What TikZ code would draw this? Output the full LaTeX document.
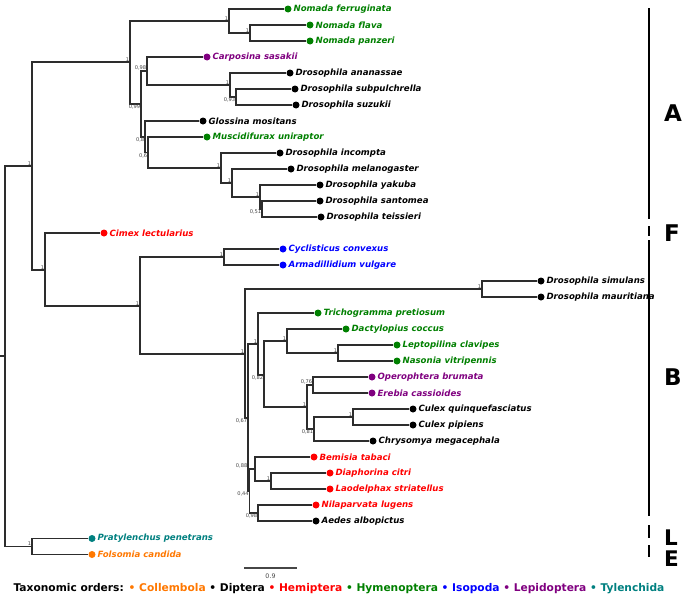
\documentclass[tikz,border=0pt]{standalone}
\usepackage{fontspec}
\setmainfont{DejaVu Sans}
\usetikzlibrary{backgrounds}
\definecolor{cgreen}{RGB}{0,128,0}
\definecolor{cpurple}{RGB}{128,0,128}
\definecolor{cred}{RGB}{255,0,0}
\definecolor{cblue}{RGB}{0,0,255}
\definecolor{cteal}{RGB}{0,128,128}
\definecolor{corange}{RGB}{255,120,0}
\definecolor{bsgray}{RGB}{70,70,70}
\definecolor{branchcol}{RGB}{45,45,45}
\tikzset{
  branch/.style={draw=branchcol, line width=1.15pt},
  leafdot/.style={circle, inner sep=0pt, minimum size=7pt, draw=none},
  leaftext/.style={inner sep=0pt, font=\fontsize{8.6}{9}\selectfont\bfseries\itshape},
  bslab/.style={inner sep=0pt, text=bsgray, font=\fontsize{5.1}{5.5}\selectfont},
  cladebar/.style={draw=black, line width=2.6pt},
  cladeletter/.style={inner sep=0pt, anchor=west, font=\fontsize{23}{25}\selectfont\bfseries},
  cladeletterS/.style={cladeletter, font=\fontsize{21.5}{23}\selectfont\bfseries},
  legendtext/.style={inner sep=0pt, font=\fontsize{10.65}{12}\selectfont\bfseries},
}
\newcommand{\leaf}[5]{%
  \node[leafdot, fill=#4] (#1) at (#2,#3) {};
  \node[leaftext, text=#4, anchor=west] (#1t) at ([xshift=5.4pt]#1.center) {#5};}
\newcommand{\bsa}[2]{\node[bslab, anchor=south east] (b#1) at ([xshift=-0.6pt,yshift=0.6pt]#1) {#2};}
\newcommand{\bsb}[2]{\node[bslab, anchor=north east] (b#1) at ([xshift=-0.6pt,yshift=-0.9pt]#1) {#2};}
\begin{document}
\begin{tikzpicture}[x=1pt,y=-1pt]
\useasboundingbox (0,0) rectangle (685,597);
% internal nodes
\coordinate (rootstub) at (0,356);
\coordinate (root) at (5,356);
\coordinate (n1) at (32,166);
\coordinate (nTop) at (130,62);
\coordinate (nNom) at (229,21);
\coordinate (nNom2) at (250,33);
\coordinate (n099) at (141,104);
\coordinate (n098) at (147,71);
\coordinate (nAna) at (230,85);
\coordinate (n093) at (236,97);
\coordinate (n08) at (145,137);
\coordinate (n06) at (148,152.5);
\coordinate (nInc) at (221,168);
\coordinate (nMel) at (232,183);
\coordinate (nYak) at (260,197);
\coordinate (n051) at (262,209);
\coordinate (nCim) at (45,270);
\coordinate (nIso) at (140,306);
\coordinate (nCyc) at (224,257);
\coordinate (nB) at (245,354);
\coordinate (nSim) at (482,289);
\coordinate (n067) at (248,418);
\coordinate (nTri) at (258,344);
\coordinate (n082) at (264,375);
\coordinate (nDac) at (287,341);
\coordinate (nLep) at (338,353);
\coordinate (nLep1) at (307,407);
\coordinate (n076) at (313,385);
\coordinate (n081) at (314,429);
\coordinate (nCul) at (353,417);
\coordinate (n044) at (249.5,491);
\coordinate (n088) at (255,469);
\coordinate (nDia) at (271,481);
\coordinate (n098b) at (258,513);
\coordinate (nPF) at (32,546.5);
% leaves
\leaf{Nferr}{288}{9}{cgreen}{Nomada ferruginata}
\leaf{Nflav}{310}{25}{cgreen}{Nomada flava}
\leaf{Npanz}{310}{41}{cgreen}{Nomada panzeri}
\leaf{Csas}{207}{57}{cpurple}{Carposina sasakii}
\leaf{Dana}{290}{73}{black}{Drosophila ananassae}
\leaf{Dsubp}{295}{89}{black}{Drosophila subpulchrella}
\leaf{Dsuz}{296}{105}{black}{Drosophila suzukii}
\leaf{Gmos}{203}{121}{black}{Glossina mositans}
\leaf{Muni}{207}{137}{cgreen}{Muscidifurax uniraptor}
\leaf{Dinc}{280}{153}{black}{Drosophila incompta}
\leaf{Dmel}{291}{169}{black}{Drosophila melanogaster}
\leaf{Dyak}{320}{185}{black}{Drosophila yakuba}
\leaf{Dsan}{320}{201}{black}{Drosophila santomea}
\leaf{Dtei}{321}{217}{black}{Drosophila teissieri}
\leaf{Clec}{104}{233}{cred}{Cimex lectularius}
\leaf{Ccon}{283}{249}{cblue}{Cyclisticus convexus}
\leaf{Avul}{283}{265}{cblue}{Armadillidium vulgare}
\leaf{Dsim}{541}{281}{black}{Drosophila simulans}
\leaf{Dmau}{541}{297}{black}{Drosophila mauritiana}
\leaf{Tpre}{318}{313}{cgreen}{Trichogramma pretiosum}
\leaf{Dcoc}{346}{329}{cgreen}{Dactylopius coccus}
\leaf{Lcla}{397}{345}{cgreen}{Leptopilina clavipes}
\leaf{Nvit}{397}{361}{cgreen}{Nasonia vitripennis}
\leaf{Obru}{372}{377}{cpurple}{Operophtera brumata}
\leaf{Ecas}{372}{393}{cpurple}{Erebia cassioides}
\leaf{Cqui}{413}{409}{black}{Culex quinquefasciatus}
\leaf{Cpip}{413}{425}{black}{Culex pipiens}
\leaf{Cmeg}{373}{441}{black}{Chrysomya megacephala}
\leaf{Btab}{314}{457}{cred}{Bemisia tabaci}
\leaf{Dcit}{330}{473}{cred}{Diaphorina citri}
\leaf{Lstr}{330}{489}{cred}{Laodelphax striatellus}
\leaf{Nlug}{316}{505}{cred}{Nilaparvata lugens}
\leaf{Aalb}{316}{521}{black}{Aedes albopictus}
\leaf{Ppen}{92}{538.5}{cteal}{Pratylenchus penetrans}
\leaf{Fcan}{92}{554.5}{corange}{Folsomia candida}
% branches
\begin{scope}[on background layer]
\fill[white] (0,0) rectangle (685,597);
\draw[branch] (rootstub) -- (root);
\draw[branch] (root) |- (n1);  \draw[branch] (root) |- (nPF);
\draw[branch] (n1) |- (nTop);  \draw[branch] (n1) |- (nCim);
\draw[branch] (nTop) |- (nNom); \draw[branch] (nTop) |- (n099);
\draw[branch] (nNom) |- (Nferr); \draw[branch] (nNom) |- (nNom2);
\draw[branch] (nNom2) |- (Nflav); \draw[branch] (nNom2) |- (Npanz);
\draw[branch] (n099) |- (n098); \draw[branch] (n099) |- (n08);
\draw[branch] (n098) |- (Csas); \draw[branch] (n098) |- (nAna);
\draw[branch] (nAna) |- (Dana); \draw[branch] (nAna) |- (n093);
\draw[branch] (n093) |- (Dsubp); \draw[branch] (n093) |- (Dsuz);
\draw[branch] (n08) |- (Gmos); \draw[branch] (n08) |- (n06);
\draw[branch] (n06) |- (Muni); \draw[branch] (n06) |- (nInc);
\draw[branch] (nInc) |- (Dinc); \draw[branch] (nInc) |- (nMel);
\draw[branch] (nMel) |- (Dmel); \draw[branch] (nMel) |- (nYak);
\draw[branch] (nYak) |- (Dyak); \draw[branch] (nYak) |- (n051);
\draw[branch] (n051) |- (Dsan); \draw[branch] (n051) |- (Dtei);
\draw[branch] (nCim) |- (Clec); \draw[branch] (nCim) |- (nIso);
\draw[branch] (nIso) |- (nCyc); \draw[branch] (nIso) |- (nB);
\draw[branch] (nCyc) |- (Ccon); \draw[branch] (nCyc) |- (Avul);
\draw[branch] (nB) |- (nSim); \draw[branch] (nB) |- (n067);
\draw[branch] (nSim) |- (Dsim); \draw[branch] (nSim) |- (Dmau);
\draw[branch] (n067) |- (nTri); \draw[branch] (n067) |- (n044);
\draw[branch] (nTri) |- (Tpre); \draw[branch] (nTri) |- (n082);
\draw[branch] (n082) |- (nDac); \draw[branch] (n082) |- (nLep1);
\draw[branch] (nDac) |- (Dcoc); \draw[branch] (nDac) |- (nLep);
\draw[branch] (nLep) |- (Lcla); \draw[branch] (nLep) |- (Nvit);
\draw[branch] (nLep1) |- (n076); \draw[branch] (nLep1) |- (n081);
\draw[branch] (n076) |- (Obru); \draw[branch] (n076) |- (Ecas);
\draw[branch] (n081) |- (nCul); \draw[branch] (n081) |- (Cmeg);
\draw[branch] (nCul) |- (Cqui); \draw[branch] (nCul) |- (Cpip);
\draw[branch] (n044) |- (n088); \draw[branch] (n044) |- (n098b);
\draw[branch] (n088) |- (Btab); \draw[branch] (n088) |- (nDia);
\draw[branch] (nDia) |- (Dcit); \draw[branch] (nDia) |- (Lstr);
\draw[branch] (n098b) |- (Nlug); \draw[branch] (n098b) |- (Aalb);
\draw[branch] (nPF) |- (Ppen); \draw[branch] (nPF) |- (Fcan);
\end{scope}
% support values
\bsa{n1}{1}
\bsa{nTop}{1}
\bsa{nNom}{1}
\bsa{nNom2}{1}
\bsb{n099}{0,99}
\bsa{n098}{0,98}
\bsa{nAna}{1}
\bsb{n093}{0,93}
\bsb{n08}{0,8}
\bsb{n06}{0,6}
\bsa{nInc}{1}
\bsa{nMel}{1}
\bsa{nYak}{1}
\bsb{n051}{0,51}
\bsa{nCim}{1}
\bsa{nIso}{1}
\bsa{nCyc}{1}
\bsa{nB}{1}
\bsa{nSim}{1}
\bsb{n067}{0,67}
\bsa{nTri}{1}
\bsb{n082}{0,82}
\bsa{nDac}{1}
\bsa{nLep}{1}
\bsa{nLep1}{1}
\bsa{n076}{0,76}
\bsb{n081}{0,81}
\bsa{nCul}{1}
\bsb{n044}{0,44}
\node[bslab, anchor=south east] (bn088) at ([xshift=-7.5pt,yshift=0.6pt]n088) {0,88};
\bsa{nDia}{1}
\bsb{n098b}{0,98}
\bsa{nPF}{1}
% scale bar
\coordinate (sbL) at (244,568);
\coordinate (sbR) at (297,568);
\draw[draw=bsgray, line width=1.2pt] (sbL) -- (sbR);
\node[inner sep=0pt, text=bsgray, font=\fontsize{6.3}{7}\selectfont] (sblab) at (270.5,576.5) {0.9};
% clade bars and letters
\draw[cladebar] (649,8) -- (649,219);
\draw[cladebar] (649,226) -- (649,236);
\draw[cladebar] (649,240) -- (649,516);
\draw[cladebar] (649,525) -- (649,538);
\draw[cladebar] (649,545) -- (649,557);
\node[cladeletter] (cA) at (664,113.5) {A};
\node[cladeletter] (cF) at (664,233.5) {F};
\node[cladeletter] (cB) at (664,377) {B};
\node[cladeletterS] (cL) at (664,538) {L};
\node[cladeletterS] (cE) at (664,558.5) {E};
% legend
\node[legendtext] (legend) at (339,589) {Taxonomic orders: \textcolor{corange}{• Collembola} • Diptera \textcolor{cred}{• Hemiptera} \textcolor{cgreen}{• Hymenoptera} \textcolor{cblue}{• Isopoda} \textcolor{cpurple}{• Lepidoptera} \textcolor{cteal}{• Tylenchida}};
\end{tikzpicture}
\end{document}
